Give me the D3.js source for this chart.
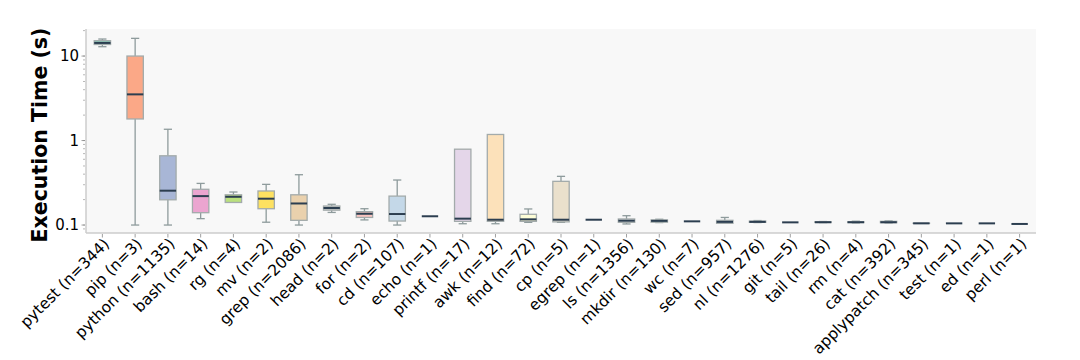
<html>
<head>
  <script src="https://d3js.org/d3.v7.min.js"></script>
  <style>
    body{ margin:0; background:#fff; }
    svg{ display:block; font-family:"DejaVu Sans", sans-serif; }
  </style>
</head>
<body>
  <svg id="chart"></svg>
  <script type="text/javascript">
    var commands = ["pytest","pip","python","bash","rg","mv","grep","head","for","cd","echo","printf","awk","find","cp","egrep","ls","mkdir","wc","sed","nl","git","tail","rm","cat","applypatch","test","ed","perl"];
    var counts   = [344,3,1135,14,4,2,2086,2,2,107,1,17,12,72,5,1,1356,130,7,957,1276,5,26,4,392,345,1,1,1];
    var whiskLo  = [12.9,0.1,0.1,0.119,0.185,0.108,0.1,0.141,0.115,0.1,0.127,0.1036,0.1036,0.1076,0.1076,0.1156,0.103,0.107,0.1106,0.1047,0.107,0.1076,0.107,0.106,0.106,0.1047,0.1047,0.1047,0.103];
    var q1       = [13.7,1.80,0.199,0.14,0.185,0.156,0.1137,0.15,0.123,0.1115,0.127,0.1106,0.1106,0.1106,0.109,0.1156,0.1076,0.108,0.1106,0.1047,0.1076,0.1076,0.1072,0.107,0.1066,0.1047,0.1047,0.1047,0.103];
    var medians  = [14.3,3.52,0.255,0.22,0.216,0.205,0.18,0.159,0.136,0.135,0.127,0.119,0.1156,0.1168,0.1156,0.1156,0.1125,0.112,0.1106,0.109,0.109,0.1076,0.108,0.108,0.108,0.1047,0.1047,0.1047,0.103];
    var q3       = [15.2,10.0,0.66,0.265,0.228,0.253,0.228,0.168,0.144,0.22,0.127,0.79,1.18,0.134,0.329,0.1156,0.118,0.115,0.1106,0.1137,0.1115,0.1076,0.1092,0.1092,0.1106,0.1052,0.1047,0.1047,0.103];
    var whiskHi  = [15.9,16.2,1.36,0.311,0.246,0.303,0.394,0.176,0.156,0.341,0.127,0.79,1.18,0.155,0.377,0.1156,0.129,0.117,0.1106,0.123,0.113,0.1076,0.11,0.111,0.112,0.1052,0.1047,0.1047,0.103];
    var yTicks   = [0.1, 1, 10];

    var palette = ["#66c2a5","#fc8d62","#8da0cb","#e78ac3","#a6d854","#ffd92f","#e5c494","#b3b3b3",
                   "#fbb4ae","#b3cde3","#ccebc5","#decbe4","#fed9a6","#ffffcc","#e5d8bd","#fddaec","#f2f2f2",
                   "#b3e2cd","#fdcdac","#cbd5e8","#f4cae4","#e6f5c9","#fff2ae","#f1e2cc","#cccccc",
                   "#8dd3c7","#ffffb3","#bebada","#fb8072"];

    var width = 1080, height = 360;
    var margin = {left:86, right:44, top:29, bottom:127};

    var data = commands.map(function(c,i){
      return {name:c, n:counts[i], lo:whiskLo[i], q1:q1[i], med:medians[i], q3:q3[i], hi:whiskHi[i], color:palette[i]};
    });

    var svg = d3.select("#chart").attr("width",width).attr("height",height);

    var x = d3.scaleBand()
              .domain(commands)
              .range([margin.left, width-margin.right])
              .paddingInner(0).paddingOuter(0);
    var y = d3.scaleLog()
              .domain([0.0805, 20.9])
              .range([height-margin.bottom, margin.top]);

    // plot background
    svg.append("rect")
       .attr("x",margin.left).attr("y",margin.top)
       .attr("width",width-margin.left-margin.right)
       .attr("height",height-margin.top-margin.bottom)
       .attr("fill","#f8f8f8");

    var boxW = x.bandwidth()*0.5;
    var g = svg.append("g").selectAll("g.box")
       .data(data).enter().append("g").attr("class","box")
       .attr("transform",function(d){ return "translate("+(x(d.name)+x.bandwidth()/2)+",0)"; });

    // whiskers
    g.append("line").attr("x1",0).attr("x2",0)
     .attr("y1",function(d){ return y(d.q3); }).attr("y2",function(d){ return y(d.hi); })
     .attr("stroke","#8e9b9c").attr("stroke-width",1.3);
    g.append("line").attr("x1",0).attr("x2",0)
     .attr("y1",function(d){ return y(d.q1); }).attr("y2",function(d){ return y(d.lo); })
     .attr("stroke","#8e9b9c").attr("stroke-width",1.3);
    // caps
    g.filter(function(d){ return d.hi > d.q3; }).append("line")
     .attr("x1",-boxW/4).attr("x2",boxW/4)
     .attr("y1",function(d){ return y(d.hi); }).attr("y2",function(d){ return y(d.hi); })
     .attr("stroke","#8e9b9c").attr("stroke-width",1.3);
    g.filter(function(d){ return d.lo < d.q1; }).append("line")
     .attr("x1",-boxW/4).attr("x2",boxW/4)
     .attr("y1",function(d){ return y(d.lo); }).attr("y2",function(d){ return y(d.lo); })
     .attr("stroke","#8e9b9c").attr("stroke-width",1.3);

    // boxes
    g.filter(function(d){ return d.q3 > d.q1; }).append("rect")
     .attr("x",-boxW/2).attr("width",boxW)
     .attr("y",function(d){ return y(d.q3); })
     .attr("height",function(d){ return y(d.q1)-y(d.q3); })
     .attr("fill",function(d){ return d.color; })
     .attr("fill-opacity",0.75)
     .attr("stroke","#a3abab").attr("stroke-width",1.3);

    // medians
    g.append("line")
     .attr("x1",-boxW/2).attr("x2",boxW/2)
     .attr("y1",function(d){ return y(d.med); }).attr("y2",function(d){ return y(d.med); })
     .attr("stroke","#2c3e50").attr("stroke-width",2);

    // spines
    svg.append("line")
       .attr("x1",margin.left).attr("x2",margin.left)
       .attr("y1",margin.top).attr("y2",height-margin.bottom)
       .attr("stroke","#cccccc").attr("stroke-width",1.5);
    svg.append("line")
       .attr("x1",margin.left).attr("x2",width-margin.right)
       .attr("y1",height-margin.bottom).attr("y2",height-margin.bottom)
       .attr("stroke","#cccccc").attr("stroke-width",1.5);

    // y axis
    var minor = [];
    [0.1,1,10].forEach(function(dec){
      for(var k=1;k<10;k++){
        var v = dec*k;
        if(v >= y.domain()[0] && v <= y.domain()[1]) minor.push(v);
      }
    });
    [0.09].forEach(function(v){ if(v >= y.domain()[0]) minor.push(v); });
    var yAxis = svg.append("g")
       .attr("transform","translate("+(margin.left-1)+",0)");
    yAxis.selectAll("line.minor").data(minor).enter().append("line")
       .attr("x1",-2).attr("x2",0)
       .attr("y1",function(d){ return y(d); }).attr("y2",function(d){ return y(d); })
       .attr("stroke","#888").attr("stroke-width",0.6);
    yAxis.selectAll("line.major").data(yTicks).enter().append("line")
       .attr("x1",-3.5).attr("x2",0)
       .attr("y1",function(d){ return y(d); }).attr("y2",function(d){ return y(d); })
       .attr("stroke","#888").attr("stroke-width",0.8);
    yAxis.selectAll("text").data(yTicks).enter().append("text")
       .attr("x",-6).attr("y",function(d){ return y(d); })
       .attr("dy","0.35em")
       .attr("text-anchor","end")
       .style("font-size","15px")
       .text(function(d){ return d3.format("")(d); });

    // x ticks + labels
    var xAxis = svg.append("g").attr("transform","translate(0,"+(height-margin.bottom)+")");
    xAxis.selectAll("line").data(commands).enter().append("line")
       .attr("x1",function(d){ return x(d)+x.bandwidth()/2; })
       .attr("x2",function(d){ return x(d)+x.bandwidth()/2; })
       .attr("y1",1).attr("y2",4.5)
       .attr("stroke","#888").attr("stroke-width",0.8);
    xAxis.selectAll("text").data(data).enter().append("text")
       .attr("transform",function(d){ return "translate("+(x(d.name)+x.bandwidth()/2+4)+",8) rotate(-45)"; })
       .attr("text-anchor","end")
       .attr("dy","0.35em")
       .style("font-size","15.5px")
       .text(function(d){ return d.name+" (n="+d.n+")"; });

    // y label
    svg.append("text")
       .attr("transform","translate(47,"+((margin.top+height-margin.bottom)/2+4)+") rotate(-90)")
       .attr("text-anchor","middle")
       .style("font-size","20.5px")
       .style("font-weight","bold")
       .text("Execution Time (s)");
  </script>
</body>
</html>
